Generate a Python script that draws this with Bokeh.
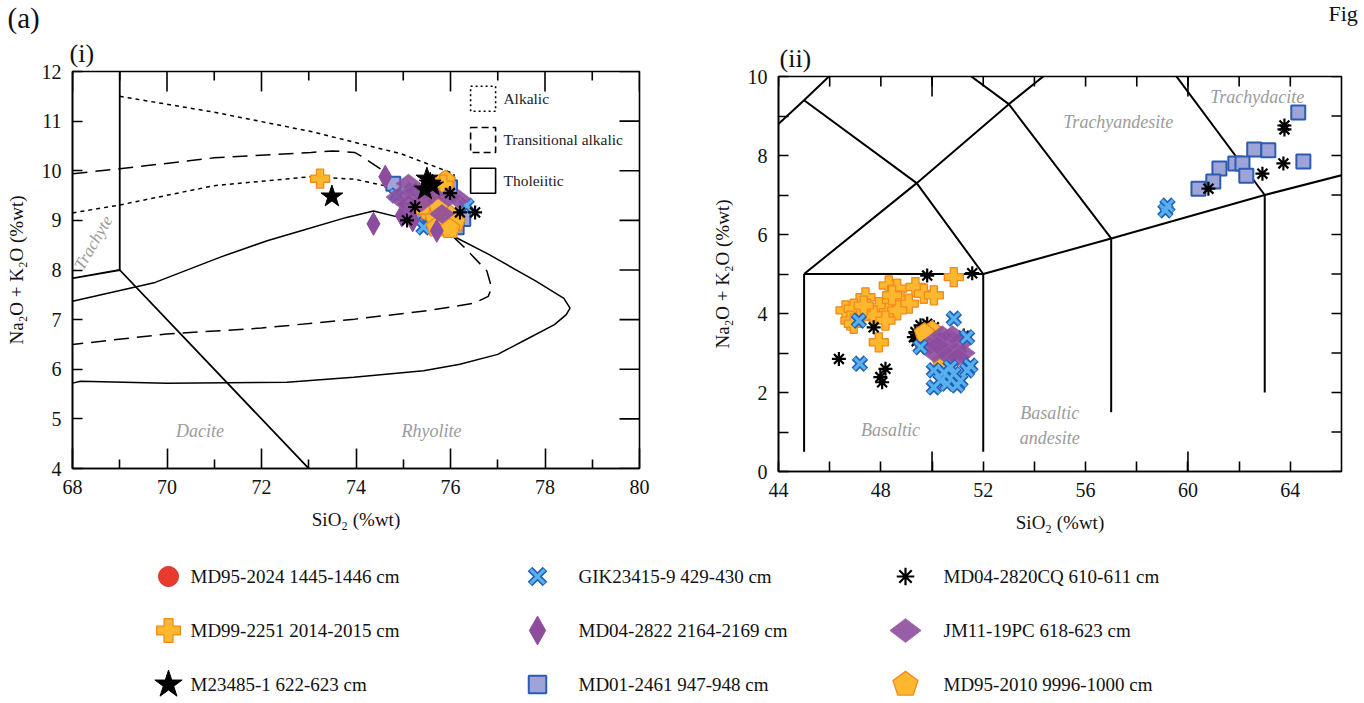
import numpy as np
from bokeh.plotting import figure
from bokeh.models import Range1d, LinearAxis, FixedTicker, Title
from bokeh.layouts import row, column
from bokeh.embed import file_html
from bokeh.resources import INLINE
from bokeh.core.properties import value

FONT = "Liberation Serif"

# ---------------- Panel (i): rhyolitic shards, SiO2 68-80 wt% ----------------
i_md99_sio2 = [73.24, 75.85]
i_md99_alk = [9.84, 9.72]
i_m23485_sio2 = [73.49, 75.50, 75.57, 75.46, 75.62]
i_m23485_alk = [9.48, 9.84, 9.74, 9.62, 9.70]
i_gik_sio2 = [74.86, 75.36, 75.43, 76.34, 75.20]
i_gik_alk = [9.50, 9.13, 8.86, 9.30, 9.60]
i_md04_2822_sio2 = [74.37, 74.62, 74.97, 75.71, 75.20]
i_md04_2822_alk = [8.93, 9.88, 9.10, 8.79, 9.00]
i_md01_sio2 = [74.79, 75.08, 75.99, 76.27, 76.13, 75.78, 75.30]
i_md01_alk = [9.74, 9.20, 9.67, 9.03, 8.86, 9.70, 9.10]
i_md04_2820_sio2 = [75.99, 76.20, 76.52, 75.25, 75.08]
i_md04_2820_alk = [9.55, 9.16, 9.16, 9.27, 9.00]
i_jm11_sio2 = [75.11, 75.25, 74.90, 75.60, 75.96, 76.17, 75.82, 75.39, 75.11, 75.50]
i_jm11_alk = [9.74, 9.57, 9.47, 9.53, 9.47, 9.43, 9.13, 9.37, 9.33, 9.62]
i_md95_2010_sio2 = [75.53, 75.67, 75.82, 75.99, 76.10, 75.50, 75.89, 75.70, 75.99, 75.40, 75.75]
i_md95_2010_alk = [9.20, 9.06, 8.93, 9.10, 8.97, 9.40, 9.80, 8.86, 8.83, 9.30, 9.27]
i_md95_2024_sio2 = []
i_md95_2024_alk = []

# Alkalic / transitional / tholeiitic rhyolite fields
alkalic_upper_x = [69.0, 71.0, 73.05, 74.96, 76.07, 76.10]
alkalic_upper_y = [11.50, 11.18, 10.79, 10.34, 9.94, 9.70]
alkalic_lower_x = [68.0, 69.0, 71.0, 73.05, 73.97, 74.60, 75.30]
alkalic_lower_y = [9.15, 9.31, 9.70, 9.88, 9.83, 9.70, 9.55]
transitional_x = [68.0, 69.0, 71.0, 73.05, 73.5, 73.97, 74.1, 74.5, 75.2, 75.96, 76.3,
                  76.77, 76.87, 76.8, 76.5, 75.5, 73.97, 72.0, 70.0, 68.0]
transitional_y = [9.94, 10.04, 10.26, 10.37, 10.40, 10.37, 10.30, 10.05, 9.40, 8.76, 8.45,
                  7.98, 7.64, 7.47, 7.33, 7.18, 7.01, 6.83, 6.71, 6.50]
tholeiitic_x = [68.0, 68.17, 70.0, 72.54, 73.95, 75.43, 76.2, 77.0, 77.6, 78.2, 78.45, 78.53,
                78.4, 77.8, 76.8, 75.96, 74.96, 74.37, 73.8, 72.84, 72.12, 71.13, 69.75, 68.0]
tholeiitic_y = [5.72, 5.76, 5.72, 5.74, 5.84, 5.97, 6.10, 6.30, 6.60, 6.90, 7.10, 7.23,
                7.43, 7.78, 8.32, 8.73, 9.05, 9.19, 9.06, 8.79, 8.59, 8.26, 7.75, 7.37]
field_names = ["Alkalic", "Transitional alkalic", "Tholeiitic"]

# TAS boundaries (Le Bas et al.)
tas_lines_i = [([63, 69, 77], [7, 8, 0]), ([69, 69], [8, 13])]
tas_lines_ii = [
    ([45, 45], [0.5, 5]), ([45, 52], [5, 5]), ([52, 52], [0.5, 5]),
    ([57, 57], [1.5, 5.9]), ([63, 63], [2, 7]),
    ([52, 57, 63, 69], [5, 5.9, 7, 8]),
    ([45, 49.4, 53, 57.6], [5, 7.3, 9.3, 11.7]),
    ([41, 45, 48.4], [7, 9.4, 11.5]),
    ([45, 49.4, 52], [9.4, 7.3, 5]),
    ([48.4, 53, 57], [11.5, 9.3, 5.9]),
    ([57.6, 63], [11.7, 7]),
]

# ---------------- Panel (ii): basaltic to trachydacitic shards ----------------
ii_md99_sio2 = [50.85, 48.31, 48.64, 49.35, 49.68, 50.07, 47.40, 48.25, 48.77, 49.09, 46.62,
                46.94, 47.46, 47.92, 48.31, 48.64, 47.20, 47.72, 48.18, 46.81, 46.94, 47.92,
                48.44, 47.33]
ii_md99_alk = [4.92, 4.71, 4.63, 4.67, 4.50, 4.46, 4.41, 4.29, 4.33, 4.25, 4.08,
               4.12, 4.12, 4.16, 4.03, 4.08, 3.91, 3.95, 3.82, 3.82, 3.74, 3.27,
               4.46, 4.20]
ii_gik_sio2 = [47.14, 47.18, 50.85, 51.37, 49.55, 50.07, 50.33, 50.07, 50.59, 50.85, 51.11,
               51.37, 51.50, 50.72, 50.98, 50.46, 59.20, 59.12]
ii_gik_alk = [3.82, 2.73, 3.87, 3.40, 3.15, 2.56, 2.30, 2.13, 2.22, 2.47, 2.30,
              2.56, 2.68, 2.64, 2.18, 2.51, 6.73, 6.61]
ii_md04_2820_sio2 = [49.81, 51.57, 47.72, 46.36, 48.18, 47.98, 48.05, 49.35, 49.55, 49.81,
                     49.29, 50.07, 51.24, 49.40, 63.77, 63.77, 63.73, 62.91, 60.80]
ii_md04_2820_alk = [4.96, 5.02, 3.65, 2.85, 2.60, 2.39, 2.26, 3.53, 3.70, 3.74,
                    3.40, 3.65, 3.44, 3.30, 8.76, 8.66, 7.80, 7.54, 7.16]
ii_jm11_sio2 = [50.3, 50.7, 51.1, 49.9, 50.5, 50.9, 51.2, 50.1, 50.6, 50.8, 50.4, 51.0, 50.2]
ii_jm11_alk = [3.30, 3.35, 3.25, 3.20, 3.10, 3.05, 3.00, 3.00, 2.95, 3.45, 3.45, 2.90, 3.20]
ii_md95_2010_sio2 = [50.0, 49.7, 50.4]
ii_md95_2010_alk = [3.55, 3.50, 2.75]
ii_md01_sio2 = [64.31, 62.59, 63.14, 64.51, 61.85, 62.13, 61.23, 62.28, 60.99, 60.41]
ii_md01_alk = [9.09, 8.15, 8.13, 7.85, 7.80, 7.80, 7.67, 7.49, 7.34, 7.16]

# Rock-name annotations
i_rock_names = ["Dacite", "Rhyolite"]
i_rock_x = [70.7, 75.6]
i_rock_y = [4.76, 4.76]
ii_rock_names = ["Trachyandesite", "Trachydacite", "Basaltic", "Basaltic", "andesite"]
ii_rock_x = [57.28, 62.71, 48.38, 54.6, 54.6]
ii_rock_y = [8.84, 9.49, 1.04, 1.49, 0.86]

# Legend entries (row-major, three columns)
legend_labels = ["MD95-2024 1445-1446 cm", "GIK23415-9 429-430 cm", "MD04-2820CQ 610-611 cm",
                 "MD99-2251 2014-2015 cm", "MD04-2822 2164-2169 cm", "JM11-19PC 618-623 cm",
                 "M23485-1 622-623 cm", "MD01-2461 947-948 cm", "MD95-2010 9996-1000 cm"]
legend_keys = ["circle", "x", "asterisk", "plus", "tall", "wide", "star", "square", "pent"]

GREY = "#9b9b9b"
INK = "#111111"
ORANGE_FILL, ORANGE_LINE = "#ffb82e", "#f2891d"
PURPLE = "#8d4c9e"
BLUE_X_IN, BLUE_X_OUT = "#58b0ee", "#2062b8"
SQ_FILL, SQ_LINE = "#9fa4d8", "#2c5bb2"

HEAD_H, ROW_H, LEG_H = 35, 510, 158


def polygons(xs, ys, kind, sx, sy, k=1.0):
    """Build patch outlines for shapes that have no Bokeh marker."""
    if kind == "pent":
        ang = np.pi / 2 + np.arange(5) * 2 * np.pi / 5
        dx, dy = 10.5 * k * np.cos(ang), 10.5 * k * np.sin(ang)
    elif kind == "tall":
        dx, dy = np.array([0, 6.5, 0, -6.5]) * k, np.array([11.5, 0, -11.5, 0]) * k
    else:  # wide rhomb
        dx, dy = np.array([0, 12.5, 0, -12.5]) * k, np.array([9.5, 0, -9.5, 0]) * k
    px = [list(x + dx / sx) for x in xs]
    py = [list(y + dy / sy) for y in ys]
    return px, py


def draw_series(p, kind, xs, ys, sx, sy, k=1.0):
    if len(xs) == 0:
        return
    if kind == "circle":
        p.scatter(xs, ys, marker="circle", size=16 * k, fill_color="#ea3a30", line_color="#d32b24")
    elif kind == "x":
        p.scatter(xs, ys, marker="x", size=17 * k, line_color=BLUE_X_OUT, line_width=6.5)
        p.scatter(xs, ys, marker="x", size=15.5 * k, line_color=BLUE_X_IN, line_width=3.2)
    elif kind == "asterisk":
        p.scatter(xs, ys, marker="asterisk", size=14 * k, line_color="black", line_width=2.2)
    elif kind == "plus":
        p.scatter(xs, ys, marker="plus", size=19 * k, fill_color=ORANGE_FILL,
                  line_color=ORANGE_LINE, line_width=1.3)
    elif kind == "star":
        p.scatter(xs, ys, marker="star", size=23 * k, fill_color="black", line_color="black")
    elif kind == "square":
        p.scatter(xs, ys, marker="square", size=14 * k, fill_color=SQ_FILL,
                  line_color=SQ_LINE, line_width=2)
    elif kind == "pent":
        px, py = polygons(xs, ys, "pent", sx, sy, k)
        p.patches(px, py, fill_color=ORANGE_FILL, line_color=ORANGE_LINE, line_width=1.3)
    elif kind == "tall":
        px, py = polygons(xs, ys, "tall", sx, sy, k)
        p.patches(px, py, fill_color=PURPLE, line_color=PURPLE, line_width=1)
    elif kind == "wide":
        px, py = polygons(xs, ys, "wide", sx, sy, k)
        p.patches(px, py, fill_color=PURPLE, fill_alpha=0.9, line_color="#9a62aa", line_width=0.8)


def style_axis(ax, tick_in, minor_in=0):
    ax.major_tick_in = tick_in
    ax.major_tick_out = 0
    ax.minor_tick_in = minor_in
    ax.minor_tick_out = 0
    ax.axis_line_color = "black"
    ax.axis_line_width = 1.6
    ax.major_tick_line_width = 1.6
    ax.minor_tick_line_width = 1.6
    ax.major_tick_line_color = "black"
    ax.minor_tick_line_color = "black"
    ax.major_label_text_font = FONT
    ax.major_label_text_color = INK
    ax.major_label_standoff = 11
    ax.major_label_text_font_size = "20px"
    ax.axis_label_text_font = FONT
    ax.axis_label_text_font_style = "normal"
    ax.axis_label_text_font_size = "19px"
    ax.axis_label_text_color = INK
    ax.axis_label_standoff = 12


def inner_ticks(p, ticks, side, length, xr, yr, sx, sy):
    """Inward tick marks on the top / right frame edges."""
    t = list(ticks)
    n = len(t)
    if side == "top":
        p.segment(x0=t, y0=[yr[1]] * n, x1=t, y1=[yr[1] - length / sy] * n,
                  line_color="black", line_width=1.6)
    else:
        p.segment(x0=[xr[1]] * n, y0=t, x1=[xr[1] - length / sx] * n, y1=t,
                  line_color="black", line_width=1.6)


def make_panel(xr, yr, width, height, left, right, top, bottom):
    p = figure(width=width, height=height, x_range=Range1d(*xr), y_range=Range1d(*yr),
               output_backend="svg", toolbar_location=None, title=None,
               min_border_left=left, min_border_right=right,
               min_border_top=top, min_border_bottom=bottom,
               x_axis_location=None, y_axis_location=None)
    p.xgrid.visible = False
    p.ygrid.visible = False
    p.outline_line_color = "black"
    p.outline_line_width = 1.6
    p.background_fill_color = "white"
    p.border_fill_color = "white"
    return p


def panel_tag(text, offset, standoff, valign):
    return Title(text=text, align="left", offset=offset, standoff=standoff,
                 vertical_align=valign, text_font=FONT, text_font_size="26px",
                 text_font_style="normal", text_color=INK)


# ---------------- Panel (i) ----------------
xr1, yr1 = (68, 80), (4, 12)
p1 = make_panel(xr1, yr1, 700, ROW_H, 72, 61, 36, 77)
sx1, sy1 = 567 / 12.0, 397 / 8.0
p1.add_layout(panel_tag("(i)", -3, 3, "top"), "above")

xt1_major = list(range(68, 81, 2))
xt1_minor = list(range(69, 80, 2))
yt1 = list(range(4, 13))
ax = LinearAxis(ticker=FixedTicker(ticks=xt1_major, minor_ticks=xt1_minor), axis_label="SiO₂ (%wt)")
style_axis(ax, 20, 9)
p1.add_layout(ax, "below")
ax = LinearAxis(ticker=FixedTicker(ticks=yt1), axis_label="Na₂O + K₂O (%wt)")
style_axis(ax, 10)
p1.add_layout(ax, "left")
inner_ticks(p1, xt1_major, "top", 20, xr1, yr1, sx1, sy1)
inner_ticks(p1, xt1_minor, "top", 9, xr1, yr1, sx1, sy1)
inner_ticks(p1, yt1, "right", 20, xr1, yr1, sx1, sy1)

for lx, ly in tas_lines_i:
    p1.line(lx, ly, line_color="black", line_width=1.8)
p1.line(alkalic_upper_x, alkalic_upper_y, line_color="black", line_width=1.5, line_dash="4 4")
p1.line(alkalic_lower_x, alkalic_lower_y, line_color="black", line_width=1.5, line_dash="4 4")
p1.line(transitional_x, transitional_y, line_color="black", line_width=1.5, line_dash="15 8")
p1.line(tholeiitic_x, tholeiitic_y, line_color="black", line_width=1.5)

# in-plot key for the compositional fields
key_x, key_tx = 76.69, 77.12
key_y = [11.45, 10.62, 9.80]
for ky, dash in zip(key_y, ["2 3", "7 4", "solid"]):
    p1.rect(x=[key_x], y=[ky], width=25, height=25, width_units="screen", height_units="screen",
            fill_color=None, line_color="black", line_width=1.6, line_dash=dash)
p1.text(x=[key_tx] * 3, y=key_y, text=field_names, text_font=value(FONT), text_font_size="15.5px",
        text_baseline="middle", text_align="left", text_color="#222222")

p1.text(x=i_rock_x, y=i_rock_y, text=i_rock_names, text_font=value(FONT), text_font_size="18px",
        text_font_style="italic", text_color=GREY, text_align="center", text_baseline="middle")
p1.text(x=[68.44], y=[8.55], text=["Trachyte"], angle=np.deg2rad(60), text_font=value(FONT),
        text_font_size="17px", text_font_style="italic", text_color=GREY,
        text_align="center", text_baseline="middle")

draw_series(p1, "square", i_md01_sio2, i_md01_alk, sx1, sy1)
draw_series(p1, "x", i_gik_sio2, i_gik_alk, sx1, sy1)
draw_series(p1, "pent", i_md95_2010_sio2, i_md95_2010_alk, sx1, sy1)
draw_series(p1, "plus", i_md99_sio2, i_md99_alk, sx1, sy1)
draw_series(p1, "tall", i_md04_2822_sio2, i_md04_2822_alk, sx1, sy1)
draw_series(p1, "wide", i_jm11_sio2, i_jm11_alk, sx1, sy1)
draw_series(p1, "asterisk", i_md04_2820_sio2, i_md04_2820_alk, sx1, sy1)
draw_series(p1, "star", i_m23485_sio2, i_m23485_alk, sx1, sy1)
draw_series(p1, "circle", i_md95_2024_sio2, i_md95_2024_alk, sx1, sy1)

# ---------------- Panel (ii) ----------------
xr2, yr2 = (44, 66), (0, 10)
p2 = make_panel(xr2, yr2, 664, ROW_H, 78, 23, 41, 74)
sx2, sy2 = 563 / 22.0, 395 / 10.0
p2.add_layout(panel_tag("(ii)", 1, 8, "bottom"), "above")

xt2_major = list(range(44, 65, 4))
xt2_minor = list(range(46, 66, 4))
yt2_major = list(range(0, 11, 2))
yt2_minor = list(range(1, 10, 2))
long_ticks_ii = [50, 60]
ax = LinearAxis(ticker=FixedTicker(ticks=xt2_major, minor_ticks=xt2_minor), axis_label="SiO₂ (%wt)")
style_axis(ax, 10, 10)
p2.add_layout(ax, "below")
ax = LinearAxis(ticker=FixedTicker(ticks=yt2_major, minor_ticks=yt2_minor),
                axis_label="Na₂O + K₂O (%wt)")
style_axis(ax, 10, 10)
p2.add_layout(ax, "left")
inner_ticks(p2, xt2_major + xt2_minor, "top", 10, xr2, yr2, sx2, sy2)
inner_ticks(p2, long_ticks_ii, "top", 20, xr2, yr2, sx2, sy2)
inner_ticks(p2, yt2_major + yt2_minor, "right", 10, xr2, yr2, sx2, sy2)
p2.segment(x0=long_ticks_ii, y0=[0, 0], x1=long_ticks_ii, y1=[20 / sy2] * 2,
           line_color="black", line_width=1.6)

for lx, ly in tas_lines_ii:
    p2.line(lx, ly, line_color="black", line_width=2)

p2.text(x=ii_rock_x, y=ii_rock_y, text=ii_rock_names, text_font=value(FONT), text_font_size="18px",
        text_font_style="italic", text_color=GREY, text_align="center", text_baseline="middle")

draw_series(p2, "square", ii_md01_sio2, ii_md01_alk, sx2, sy2)
draw_series(p2, "plus", ii_md99_sio2, ii_md99_alk, sx2, sy2)
draw_series(p2, "asterisk", ii_md04_2820_sio2, ii_md04_2820_alk, sx2, sy2)
draw_series(p2, "pent", ii_md95_2010_sio2, ii_md95_2010_alk, sx2, sy2)
draw_series(p2, "wide", ii_jm11_sio2, ii_jm11_alk, sx2, sy2)
draw_series(p2, "x", ii_gik_sio2, ii_gik_alk, sx2, sy2)

# ---------------- Heading strip: figure tag ----------------
ph = figure(width=1364, height=HEAD_H, x_range=Range1d(0, 1364), y_range=Range1d(HEAD_H, 0),
            output_backend="svg", toolbar_location=None, title=None,
            min_border=0, x_axis_location=None, y_axis_location=None)
ph.xgrid.visible = False
ph.ygrid.visible = False
ph.outline_line_color = None
ph.text(x=[7], y=[17.5], text=["(a)"], text_font=value(FONT), text_font_size="29px",
        text_baseline="middle", text_color=INK)
ph.text(x=[1328], y=[12.5], text=["Fig"], text_font=value(FONT), text_font_size="22px",
        text_baseline="middle", text_color=INK)

# ---------------- Shared legend ----------------
pl = figure(width=1364, height=LEG_H, x_range=Range1d(0, 1364), y_range=Range1d(703, 545),
            output_backend="svg", toolbar_location=None, title=None,
            min_border=0, x_axis_location=None, y_axis_location=None)
pl.xgrid.visible = False
pl.ygrid.visible = False
pl.outline_line_color = None

col_marker_x = [168, 537, 905]
col_text_x = [190, 578, 943]
row_y = [576, 630, 684]
for idx, (lab, key) in enumerate(zip(legend_labels, legend_keys)):
    r, c = divmod(idx, 3)
    draw_series(pl, key, [col_marker_x[c]], [row_y[r]], 1.0, -1.0, k=1.25)
    pl.text(x=[col_text_x[c]], y=[row_y[r]], text=[lab], text_font=value(FONT),
            text_font_size="19px", text_baseline="middle", text_align="left", text_color=INK)

# each panel sits in its own column so their frames keep independent top edges
layout = column(ph, row(column(p1), column(p2)), pl)
open("out.html", "w").write(file_html(layout, INLINE))
